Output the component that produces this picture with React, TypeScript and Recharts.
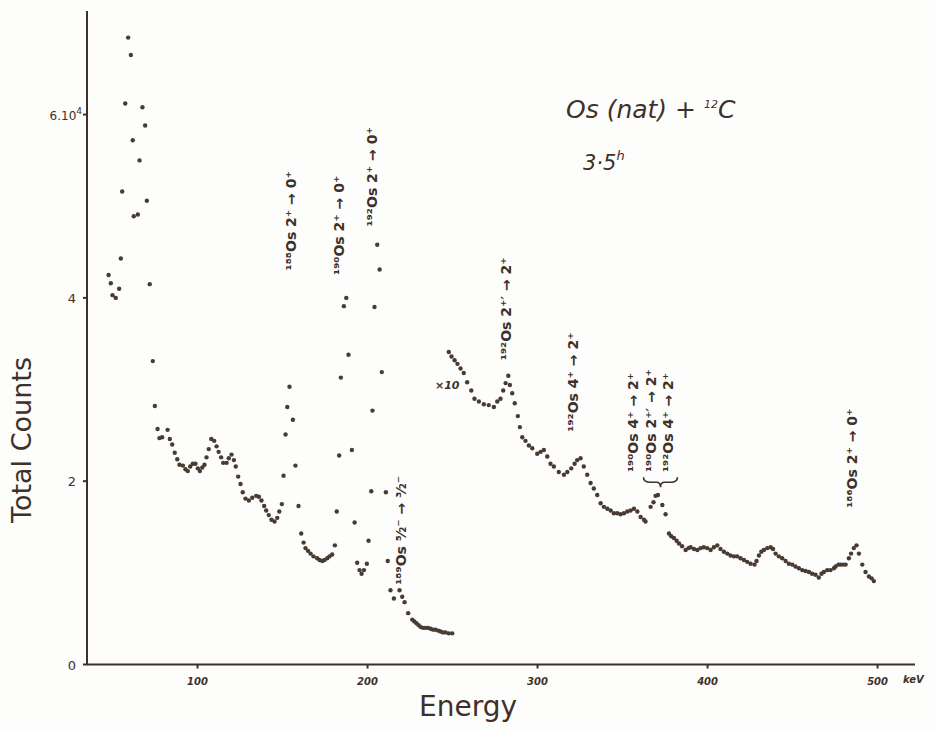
import { ReferenceDot, Scatter, ScatterChart, XAxis, YAxis } from 'recharts';

const ink = '#3d3129';
const dotInk = '#4a3b32';
const paper = '#fdfdfb';
const hand = '"DejaVu Sans", "Open Sans", sans-serif';

// Os K x-ray region (scattered points)
const xrayKeV = [47.7, 49.0, 50.0, 51.9, 53.9, 54.9, 55.7, 57.5, 59.2, 60.8, 61.9, 62.5, 64.9, 65.9, 67.6, 69.2, 70.2, 71.9];
const xrayCounts = [4.25, 4.16, 4.03, 4.0, 4.1, 4.43, 5.16, 6.12, 6.84, 6.65, 5.72, 4.89, 4.91, 5.5, 6.08, 5.88, 5.06, 4.15];

// low energy part, counts in 10^4
const lowKeV = [
  73.7, 74.9, 76.5, 77.6, 79.2, 82.4, 83.7, 85.1, 86.6, 88.1, 89.4, 91.4, 92.9, 94.3, 95.7, 97.2, 98.8, 100.2, 101.4,
  102.8, 104.1, 105.3, 106.6, 108.1, 109.8, 111.2, 112.4, 113.9, 115.1, 117.1, 118.4, 120.0, 121.4, 122.5, 123.9,
  125.3, 126.6, 128.2, 130.2, 132.2, 134.5, 136.1, 137.6, 139.2, 140.4, 141.9, 143.5, 145.3, 146.9, 148.1, 149.6,
  150.6, 151.8, 152.8, 154.1, 156.1, 157.6, 159.4, 161.0, 162.4, 163.5, 165.0, 166.5, 168.2, 170.4, 171.8, 173.4,
  174.7, 176.3, 177.6, 179.2, 180.8, 181.9, 183.3, 184.3, 186.1, 187.5, 188.8, 190.8, 192.4, 193.9, 195.3, 196.5,
  197.9, 199.6, 200.6, 202.2, 202.9, 204.1, 205.7, 207.1, 208.4, 210.8, 211.9, 213.5, 215.5, 218.8, 220.4, 221.8,
  223.9, 226.3, 227.5, 228.8, 230.0, 231.2, 232.6, 234.1, 235.6, 237.1, 238.6, 240.0, 241.5, 242.9, 244.4, 245.9,
  247.8, 249.8,
];
const lowCounts = [
  3.31, 2.82, 2.57, 2.47, 2.48, 2.56, 2.46, 2.4, 2.31, 2.24, 2.18, 2.17, 2.13, 2.11, 2.16, 2.19, 2.19, 2.14, 2.11,
  2.15, 2.18, 2.26, 2.35, 2.46, 2.44, 2.38, 2.32, 2.26, 2.2, 2.2, 2.25, 2.29, 2.23, 2.16, 2.05,
  1.97, 1.88, 1.81, 1.79, 1.82, 1.84, 1.83, 1.79, 1.73, 1.68, 1.63, 1.58, 1.56, 1.6, 1.67, 1.75,
  2.06, 2.51, 2.81, 3.03, 2.67, 2.17, 1.73, 1.43, 1.33, 1.27, 1.24, 1.21, 1.18, 1.16, 1.14, 1.13,
  1.14, 1.16, 1.18, 1.2, 1.3, 1.67, 2.28, 3.13, 3.91, 4.0, 3.38, 2.34, 1.55, 1.11, 1.03, 0.99,
  1.03, 1.1, 1.35, 1.89, 2.77, 3.9, 4.58, 4.31, 3.19, 1.88, 1.13, 0.81, 0.72, 0.81, 0.74, 0.68,
  0.56, 0.49, 0.47, 0.45, 0.43, 0.41, 0.4, 0.4, 0.4, 0.39, 0.38, 0.38, 0.37, 0.36, 0.35, 0.35,
  0.34, 0.34,
];

// high energy part, plotted x10
const highKeV = [
  247.8, 249.4, 251.2, 252.9, 254.7, 256.6, 258.6, 261.0, 262.9, 265.5, 268.4, 271.3, 274.3, 276.3, 278.2, 279.8,
  281.2, 282.8, 283.7, 285.1, 286.6, 288.4, 289.6, 291.0, 292.9, 294.9, 296.9, 299.8, 301.8, 303.7, 305.7, 307.6,
  309.6, 312.5, 315.5, 317.5, 319.8, 321.8, 323.3, 325.3, 327.2, 329.2, 331.2, 333.1, 335.1, 337.1, 339.0, 341.0,
  343.0, 344.9, 346.9, 348.8, 350.8, 352.8, 354.7, 356.7, 358.7, 360.6, 362.6, 363.5, 366.5, 368.2, 369.4, 370.8,
  373.4, 375.3, 377.3, 378.6, 380.2, 381.8, 383.2, 385.0, 387.1, 388.8, 390.0, 392.0, 394.0, 395.9, 397.8, 399.8,
  401.8, 403.7, 405.7, 407.6, 409.6, 411.6, 413.5, 415.5, 417.4, 419.4, 421.4, 423.3, 425.3, 427.6, 428.8, 430.2,
  431.6, 433.1, 435.1, 437.1, 438.5, 440.0, 441.9, 443.9, 445.9, 447.8, 449.8, 451.7, 453.7, 455.7, 457.6, 459.6,
  461.5, 463.5, 465.4, 467.0, 468.4, 470.4, 472.3, 474.3, 475.3, 477.0, 478.2, 479.7, 481.2, 483.1, 484.4, 486.0,
  487.6, 489.0, 491.0, 492.9, 494.9, 496.5, 497.8,
];
const highCounts = [
  3.41, 3.36, 3.32, 3.28, 3.23, 3.18, 3.08, 2.99, 2.9, 2.87, 2.84, 2.83, 2.81, 2.87, 2.9, 2.99,
  3.07, 3.15, 3.05, 2.96, 2.85, 2.71, 2.59, 2.48, 2.44, 2.39, 2.36, 2.3, 2.32, 2.34, 2.27, 2.19,
  2.16, 2.1, 2.07, 2.1, 2.14, 2.19, 2.23, 2.25, 2.16, 2.07, 1.98, 1.92, 1.85, 1.76, 1.72, 1.7,
  1.68, 1.65, 1.65, 1.64, 1.65, 1.67, 1.68, 1.7, 1.67, 1.61, 1.58, 1.56, 1.72, 1.77, 1.84, 1.85,
  1.74, 1.64, 1.43, 1.4, 1.38, 1.35, 1.32, 1.29, 1.25, 1.27, 1.28, 1.26, 1.25, 1.27, 1.28, 1.27,
  1.25, 1.28, 1.3, 1.26, 1.23, 1.21, 1.19, 1.18, 1.18, 1.16, 1.14, 1.12, 1.1, 1.09, 1.13, 1.19,
  1.23, 1.25, 1.27, 1.28, 1.26, 1.21, 1.18, 1.16, 1.13, 1.1, 1.09, 1.07, 1.05, 1.03, 1.02, 1.01,
  0.99, 0.98, 0.95, 0.99, 1.01, 1.03, 1.03, 1.05, 1.07, 1.09, 1.09, 1.09, 1.09, 1.16, 1.21, 1.27,
  1.3, 1.21, 1.09, 1.01, 0.96, 0.94, 0.91,
];

const energyTicks = [100, 200, 300, 400, 500];
const countTicks = [0, 2, 4, 6];

// peak annotations (written bottom to top)
const peakNames = [
  '¹⁸⁸Os  2⁺ → 0⁺',
  '¹⁹⁰Os  2⁺ → 0⁺',
  '¹⁹²Os  2⁺ → 0⁺',
  '¹⁸⁹Os ⁵⁄₂⁻ → ³⁄₂⁻',
  '¹⁹²Os  2⁺′ → 2⁺',
  '¹⁹²Os  4⁺ → 2⁺',
  '¹⁹⁰Os  4⁺ → 2⁺',
  '¹⁹⁰Os  2⁺′ → 2⁺',
  '¹⁹²Os  4⁺ → 2⁺',
  '¹⁸⁶Os  2⁺ → 0⁺',
];
const peakKeV = [154.7, 183.0, 202.9, 219.4, 281.2, 320.6, 355.9, 366.5, 376.5, 484.7];
const peakCounts = [4.3, 4.25, 4.78, 0.87, 3.32, 2.54, 2.1, 2.1, 2.1, 1.71];

const pts = (e: number[], c: number[]) => e.map((v, i) => ({ e: v, c: c[i] }));
const xray = pts(xrayKeV, xrayCounts);
const low = pts(lowKeV, lowCounts);
const high = pts(highKeV, highCounts);

const Dot = (p: any) => <circle cx={p.cx} cy={p.cy} r={2.2} fill={dotInk} />;

function PeakName({ cx, cy, text }: { cx: number; cy: number; text: string }) {
  return (
    <text
      x={cx}
      y={cy}
      transform={`rotate(-90 ${cx} ${cy})`}
      fontSize={14}
      fontWeight={700}
      fill={ink}
      fontFamily={hand}
      dominantBaseline="central"
    >
      {text}
    </text>
  );
}

function Brace({ cx, cy }: { cx: number; cy: number }) {
  const d = `M ${cx - 17} ${cy - 4} Q ${cx - 17} ${cy + 1} ${cx - 10} ${cy + 1} L ${cx - 4} ${cy + 1} Q ${cx} ${cy + 1} ${cx} ${cy + 6} Q ${cx} ${cy + 1} ${cx + 4} ${cy + 1} L ${cx + 10} ${cy + 1} Q ${cx + 17} ${cy + 1} ${cx + 17} ${cy - 4}`;
  return <path d={d} fill="none" stroke={ink} strokeWidth={1.6} />;
}

function EnergyTick(p: any) {
  return (
    <text x={p.x} y={p.y + 14} textAnchor="middle" fontSize={10} fontWeight={700} fontStyle="italic" fill={ink} fontFamily={hand}>
      {p.payload.value}
    </text>
  );
}

function CountTick(p: any) {
  const v = p.payload.value;
  if (v === 6) {
    return (
      <text x={p.x + 1} y={p.y + 5} textAnchor="end" fontSize={12} fill={ink} fontFamily={hand}>
        6.10<tspan dy={-6} fontSize={9}>4</tspan>
      </text>
    );
  }
  return (
    <text x={p.x - 5} y={p.y + 5} textAnchor="end" fontSize={13} fill={ink} fontFamily={hand}>
      {v}
    </text>
  );
}

export default function App() {
  return (
    <div style={{ position: 'absolute', left: 0, top: 0, width: 936, height: 732, background: paper }}>
      <ScatterChart width={936} height={732} margin={{ top: 11, right: 21, left: 27, bottom: 37.5 }}>
        <XAxis
          type="number"
          dataKey="e"
          domain={[35, 522]}
          ticks={energyTicks}
          allowDataOverflow
          height={30}
          stroke={ink}
          strokeWidth={2}
          tickSize={4}
          tick={<EnergyTick />}
        />
        <YAxis
          type="number"
          dataKey="c"
          domain={[0, 7.13]}
          ticks={countTicks}
          allowDataOverflow
          width={60}
          stroke={ink}
          strokeWidth={2}
          tickSize={4}
          tick={<CountTick />}
        />
        <Scatter data={xray} shape={Dot} isAnimationActive={false} />
        <Scatter data={low} shape={Dot} isAnimationActive={false} />
        <Scatter data={high} shape={Dot} isAnimationActive={false} />
        {peakNames.map((name, i) => (
          <ReferenceDot
            key={name + i}
            x={peakKeV[i]}
            y={peakCounts[i]}
            r={1}
            shape={(p: any) => <PeakName cx={p.cx} cy={p.cy} text={name} />}
          />
        ))}
        <ReferenceDot x={372.3} y={2.0} r={1} shape={(p: any) => <Brace cx={p.cx} cy={p.cy} />} />
      </ScatterChart>
      <svg width={936} height={732} style={{ position: 'absolute', left: 0, top: 0, pointerEvents: 'none' }}>
        <g fill={ink} fontFamily={hand}>
          <text x={566} y={118} fontSize={25} fontStyle="italic">
            Os (nat) + <tspan dy={-10} fontSize={11}>12</tspan>
            <tspan dy={10}>C</tspan>
          </text>
          <text x={583} y={170} fontSize={21} fontStyle="italic">
            3·5<tspan dy={-10} fontSize={13}>h</tspan>
          </text>
          <text x={435} y={389} fontSize={11} fontWeight={700} fontStyle="italic">×10</text>
          <text x={468} y={716} fontSize={28} textAnchor="middle">Energy</text>
          <text x={903} y={683} fontSize={10} fontWeight={700} fontStyle="italic">keV</text>
          <text x={31} y={440} fontSize={27} textAnchor="middle" transform="rotate(-90 31 440)">Total Counts</text>
        </g>
      </svg>
    </div>
  );
}
